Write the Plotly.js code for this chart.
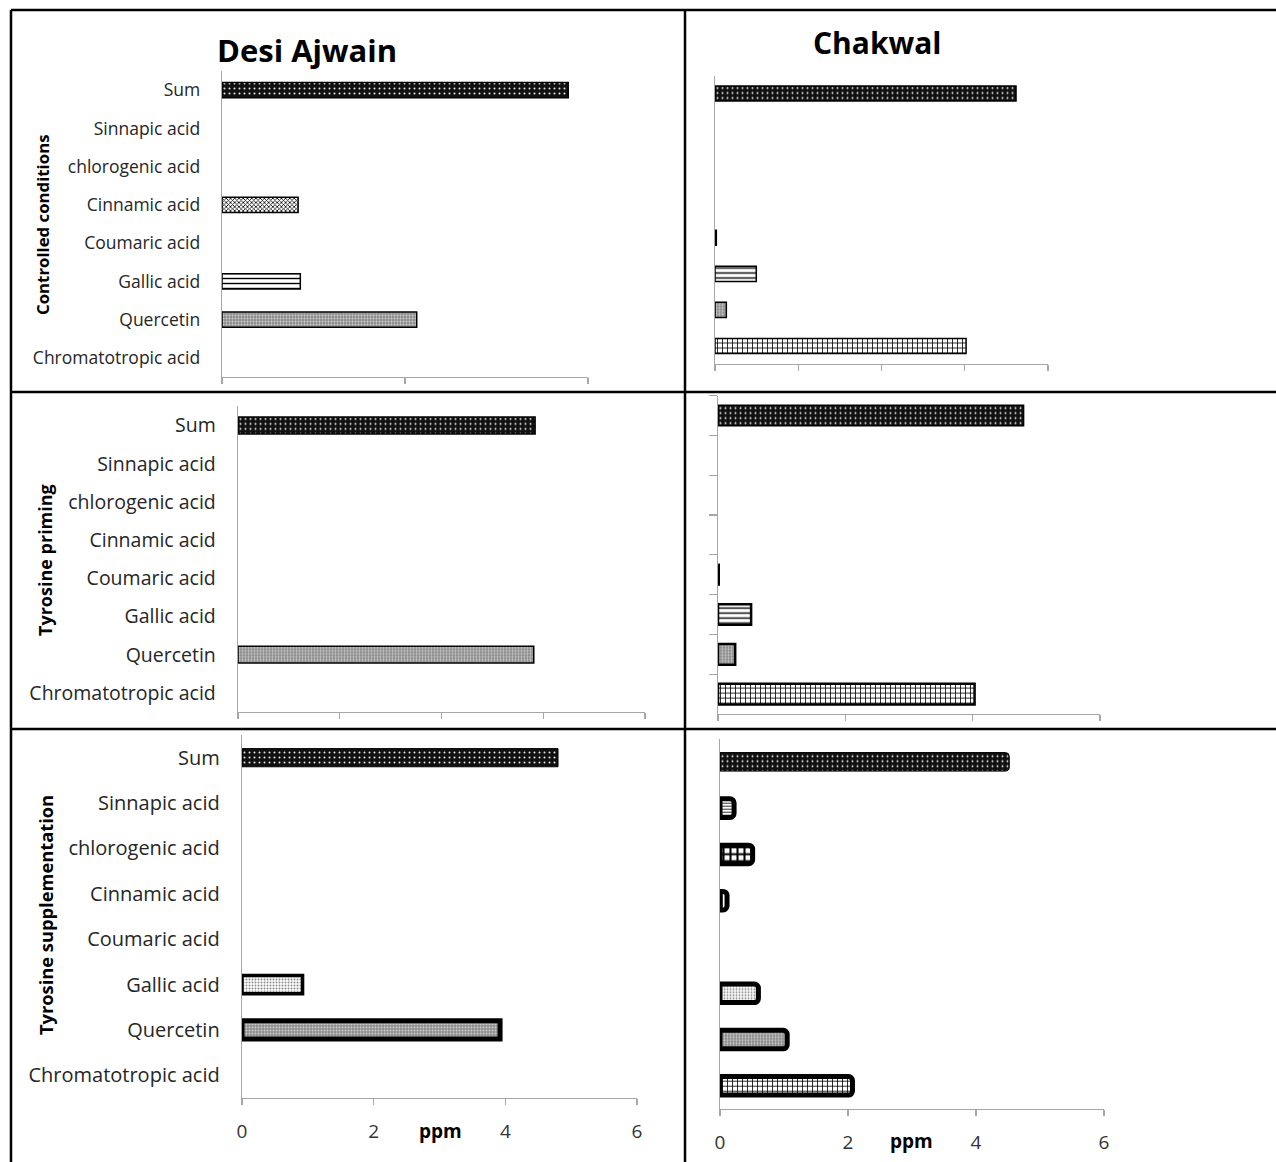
<!DOCTYPE html>
<html>
<head>
<meta charset="utf-8">
<script src="https://cdn.plot.ly/plotly-3.0.1.min.js"></script>
<style>
  html, body { margin: 0; padding: 0; background: #fff; }
  #chart { width: 1276px; height: 1162px; }
</style>
</head>
<body>
<div id="chart"></div>
<script>
// ---------- DATA ----------
const categories = ["Chromatotropic acid", "Quercetin", "Gallic acid", "Coumaric acid",
                    "Cinnamic acid", "chlorogenic acid", "Sinnapic acid", "Sum"];

// null = no bar drawn in the reference
const desiControlled     = [null, 2.66, 1.07, null, 1.04, null, null, 4.73];
const chakwalControlled  = [3.77, 0.17, 0.62, 0.02, null, null, null, 4.52];
const desiPriming        = [null, 4.36, null, null, null, null, null, 4.38];
const chakwalPriming     = [4.03, 0.27, 0.52, 0.02, null, null, null, 4.80];
const desiSupplement     = [null, 3.92, 0.92, null, null, null, null, 4.80];
const chakwalSupplement  = [2.07, 1.05, 0.60, null, 0.11, 0.51, 0.22, 4.52];

const colTitles = ["Desi Ajwain", "Chakwal"];
const rowTitles = ["Controlled conditions", "Tyrosine priming", "Tyrosine supplementation"];
const xTitle = "ppm";

// ---------- STYLE ----------
const W = 1276, H = 1162;
const px = x => x / W;
const py = y => 1 - y / H;
const FONT = "'Open Sans', 'Noto Sans', sans-serif";
const AXIS_GRAY = "#a6a6a6";

const P = {
  sum:    {shape: ".", bg: "#111111", fg: "#e8e8e8", size: 5, sol: 0.12},
  checkF: {shape: "x", bg: "#ffffff", fg: "#000000", size: 3, sol: 0.45},
  hlines: {shape: "-", bg: "#ffffff", fg: "#000000", size: 5, sol: 0.28},
  grayD:  {shape: ".", bg: "#8c8c8c", fg: "#d0d0d0", size: 3, sol: 0.35},
  grid:   {shape: "+", bg: "#ffffff", fg: "#000000", size: 5, sol: 0.3},
  solid:  {shape: "-", bg: "#000000", fg: "#000000", size: 5, sol: 0.5},
  lightD: {shape: ".", bg: "#ffffff", fg: "#8a8a8a", size: 3, sol: 0.35},
  hlinesS:{shape: "-", bg: "#ffffff", fg: "#333333", size: 3, sol: 0.35},
  checkB: {shape: "+", bg: "#ffffff", fg: "#000000", size: 7, sol: 0.5},
  vline:  {shape: "|", bg: "#ffffff", fg: "#000000", size: 4, sol: 0.3},
  none:   {shape: "-", bg: "#ffffff", fg: "#ffffff", size: 5, sol: 0.3}
};

const panels = [
  {vals: desiControlled, x: [222, 588], y: [71, 377], range: [0, 5], dtick: 2.5, width: 0.4,
   pats: [P.none, P.grayD, P.hlines, P.none, P.checkF, P.none, P.none, P.sum],
   lw: 1.5, labels: true, lsize: 17.5, xlabels: false},
  {vals: chakwalControlled, x: [715, 1048], y: [75.5, 364], range: [0, 5], dtick: 1.25, width: 0.42,
   pats: [P.grid, P.grayD, P.hlines, P.solid, P.none, P.none, P.none, P.sum],
   lw: 1.5, labels: false, xlabels: false},
  {vals: desiPriming, x: [238, 645], y: [406.4, 712], range: [0, 6], dtick: 1.5, width: 0.44,
   pats: [P.none, P.grayD, P.none, P.none, P.none, P.none, P.none, P.sum],
   lw: 1.5, labels: true, lsize: 19.5, xlabels: false},
  {vals: chakwalPriming, x: [718, 1100], y: [395.6, 714], range: [0, 6], dtick: 2, width: 0.52,
   pats: [P.grid, P.grayD, P.hlines, P.solid, P.none, P.none, P.none, P.sum],
   lw: [2.5,2.5,2.5,1.5,2,2,2,1.5], labels: false, xlabels: false, yticks: true},
  {vals: desiSupplement, x: [242, 637], y: [735, 1098], range: [0, 6], dtick: 2, width: 0.4,
   pats: [P.none, P.grayD, P.lightD, P.none, P.none, P.none, P.none, P.sum],
   lw: [1,5,3.5,1,1,1,1,1], labels: true, lsize: 20, xlabels: true},
  {vals: chakwalSupplement, x: [720, 1104], y: [738.7, 1109], range: [0, 6], dtick: 2, width: 0.4,
   pats: [P.grid, P.grayD, P.lightD, P.none, P.vline, P.checkB, P.hlinesS, P.sum],
   lw: [5,5,5,5,5,5,5,1], labels: false, xlabels: true, corner: 4}
];

const traces = [];
const layout = {
  width: W, height: H,
  margin: {l: 0, r: 0, t: 0, b: 0},
  paper_bgcolor: "#ffffff", plot_bgcolor: "rgba(0,0,0,0)",
  showlegend: false,
  font: {family: FONT, color: "#262626"},
  annotations: [], shapes: []
};

panels.forEach((p, i) => {
  const n = i + 1;
  const sfx = n === 1 ? "" : String(n);
  traces.push({
    type: "bar", orientation: "h",
    x: p.vals, y: categories,
    xaxis: "x" + sfx, yaxis: "y" + sfx,
    width: p.width,
    hoverinfo: "x+y",
    marker: {
      color: "#ffffff",
      line: {color: "#000000", width: p.lw},
      cornerradius: p.corner || 0,
      pattern: {
        shape: p.pats.map(s => s.shape),
        bgcolor: p.pats.map(s => s.bg),
        fgcolor: p.pats.map(s => s.fg),
        fgopacity: 1,
        size: p.pats.map(s => s.size),
        solidity: p.pats.map(s => s.sol),
        fillmode: "replace"
      }
    }
  });
  layout["xaxis" + sfx] = {
    domain: [px(p.x[0]), px(p.x[1])],
    anchor: "y" + sfx,
    range: p.range, dtick: p.dtick, tick0: 0,
    showgrid: false, zeroline: false,
    showline: true, linecolor: AXIS_GRAY, linewidth: 1.3,
    ticks: "outside", ticklen: 6, tickcolor: AXIS_GRAY, tickwidth: 1.3,
    showticklabels: p.xlabels,
    ticklabelstandoff: 10,
    tickfont: {family: FONT, size: 19, color: "#333333"},
    fixedrange: true
  };
  layout["yaxis" + sfx] = {
    domain: [py(p.y[1]), py(p.y[0])],
    anchor: "x" + sfx,
    type: "category", categoryorder: "array", categoryarray: categories,
    range: [-0.5, categories.length - 0.5],
    showgrid: false, zeroline: false,
    showline: true, linecolor: AXIS_GRAY, linewidth: 1.3,
    ticks: p.yticks ? "outside" : "",
    tickson: p.yticks ? "boundaries" : "labels",
    ticklen: 8, tickcolor: AXIS_GRAY, tickwidth: 1.3,
    showticklabels: p.labels,
    ticklabelstandoff: 17,
    tickfont: {family: FONT, size: p.lsize || 18, color: "#262626"},
    fixedrange: true
  };
});

layout.annotations.push({text: "<b>" + colTitles[0] + "</b>", xref: "paper", yref: "paper",
  x: px(307), y: py(50), xanchor: "center", yanchor: "middle", showarrow: false,
  font: {family: FONT, size: 31, color: "#000"}});
layout.annotations.push({text: "<b>" + colTitles[1] + "</b>", xref: "paper", yref: "paper",
  x: px(877), y: py(42), xanchor: "center", yanchor: "middle", showarrow: false,
  font: {family: FONT, size: 30, color: "#000"}});

const rowPos = [[42, 225, 16.8], [45, 560, 18], [45, 915, 18.3]];
rowTitles.forEach((t, i) => {
  layout.annotations.push({text: "<b>" + t + "</b>", xref: "paper", yref: "paper",
    x: px(rowPos[i][0]), y: py(rowPos[i][1]), xanchor: "center", yanchor: "middle",
    textangle: -90, showarrow: false,
    font: {family: FONT, size: rowPos[i][2], color: "#000"}});
});

[[440, 1131], [912, 1141]].forEach(pos => {
  layout.annotations.push({text: "<b>" + xTitle + "</b>", xref: "paper", yref: "paper",
    x: px(pos[0]), y: py(pos[1]), xanchor: "center", yanchor: "middle", showarrow: false,
    font: {family: FONT, size: 19, color: "#000"}});
});

const lineStyle = {color: "#000000", width: 2.5};
[[11, 10, 1276, 10], [11, 392, 1276, 392], [11, 729, 1276, 729],
 [11, 10, 11, 1162], [685, 10, 685, 1162]].forEach(l => {
  layout.shapes.push({type: "line", xref: "paper", yref: "paper",
    x0: px(l[0]), y0: py(l[1]), x1: px(l[2]), y1: py(l[3]), line: lineStyle, layer: "above"});
});

Plotly.newPlot("chart", traces, layout, {displayModeBar: false, staticPlot: true});
</script>
</body>
</html>
